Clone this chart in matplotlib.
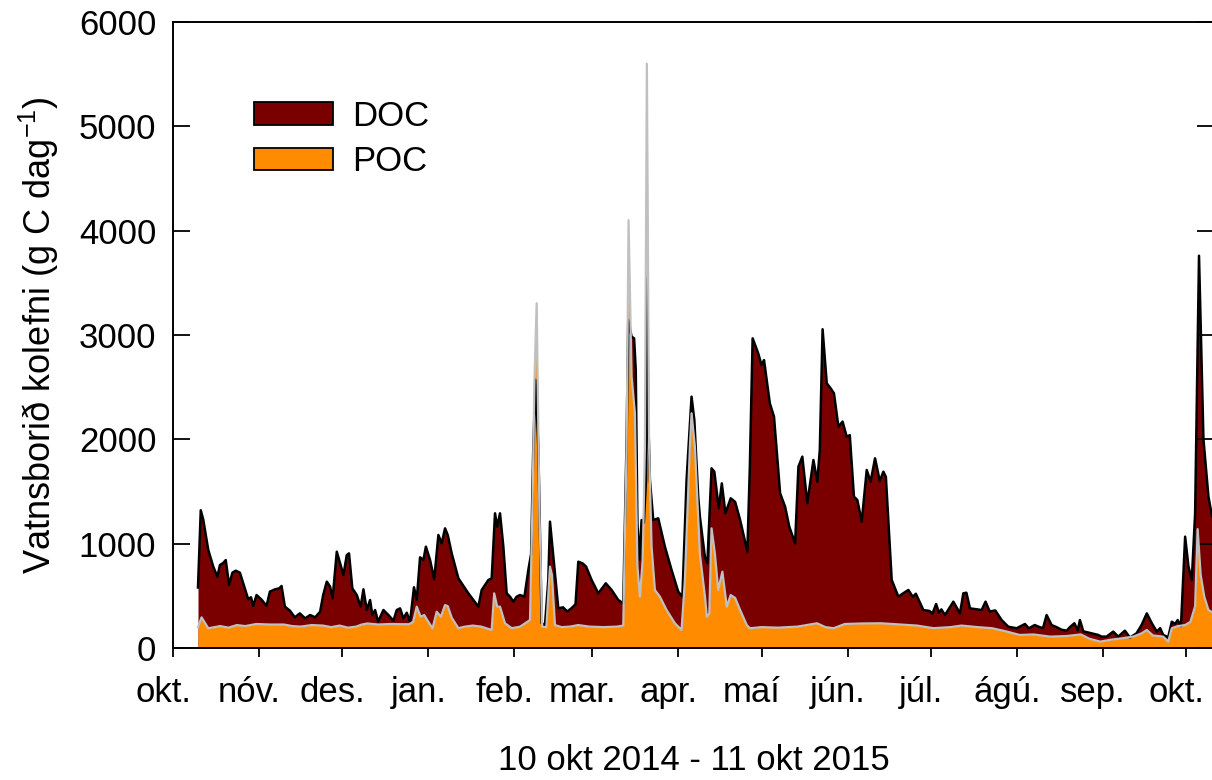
import numpy as np
import matplotlib
matplotlib.use("Agg")
import matplotlib.pyplot as plt
from matplotlib.patches import Patch
from matplotlib.transforms import ScaledTranslation

plt.rcParams['font.family'] = ['Liberation Sans', 'DejaVu Sans']
plt.rcParams['mathtext.fontset'] = 'custom'
plt.rcParams['mathtext.rm'] = 'Liberation Sans'
plt.rcParams['mathtext.it'] = 'Liberation Sans'

# days since 1 Oct 2014
# top line = DOC + POC (g C dag-1)
total_day = [9.0, 10.0, 10.9, 12.7, 14.5, 16.0, 16.9, 18.1, 19.0, 20.2, 21.4, 22.6, 24.1, 25.3,
             27.1, 28.1, 28.9, 30.1, 32.0, 33.7, 34.9, 36.7, 38.3, 39.1, 40.3, 42.1, 43.9, 45.7,
             47.6, 49.4, 51.2, 53.0, 54.1, 55.4, 56.6, 57.5, 59.0, 60.2, 61.4, 62.6, 63.4, 64.6,
             66.2, 67.6, 68.6, 69.8, 71.0, 71.8, 72.8, 73.9, 75.8, 77.6, 79.4, 80.6, 81.8, 83.0,
             84.2, 85.4, 86.8, 87.8, 89.0, 90.2, 91.1, 92.6, 94.1, 95.6, 96.8, 98.0, 99.0, 100.4,
             102.8, 106.4, 110.0, 111.2, 113.6, 114.8, 116.0, 116.8, 117.8, 119.0, 120.2, 121.4,
             122.6, 123.8, 125.0, 126.6, 128.0, 129.0, 129.8, 130.6, 131.6, 132.4, 132.8, 134.0,
             135.2, 135.8, 137.6, 138.8, 140.5, 142.0, 143.5, 145.0, 146.0, 147.6, 148.8, 150.8,
             153.2, 155.9, 158.0, 160.4, 162.2, 163.4, 164.0, 165.2, 166.1, 166.7, 167.3, 168.0,
             168.8, 169.6, 170.4, 170.8, 171.2, 171.8, 173.0, 174.8, 177.2, 179.6, 182.0, 183.5,
             185.0, 186.8, 187.8, 189.2, 189.8, 191.6, 192.5, 194.0, 195.0, 196.6, 197.7, 199.0,
             200.9, 202.5, 204.3, 206.9, 207.8, 208.8, 210.8, 212.0, 212.9, 215.0, 216.5, 218.7,
             220.5, 222.0, 224.1, 225.3, 226.7, 228.5, 230.7, 232.1, 233.0, 234.0, 235.5, 236.9,
             238.1, 239.7, 241.2, 242.7, 243.8, 245.3, 246.5, 248.1, 249.9, 251.3, 252.9, 254.6,
             255.9, 256.8, 258.9, 261.3, 262.8, 264.9, 266.5, 267.6, 270.3, 272.5, 273.6, 274.9,
             275.9, 276.8, 278.1, 281.1, 283.5, 284.7, 285.8, 287.1, 291.3, 292.7, 294.2, 296.2,
             298.5, 300.9, 303.9, 306.9, 308.3, 310.4, 312.2, 313.4, 314.7, 316.5, 318.3, 320.1,
             321.9, 323.1, 324.7, 325.9, 326.7, 327.9, 330.9, 333.3, 334.5, 336.3, 338.7, 340.5,
             342.9, 344.7, 347.1, 348.9, 350.8, 352.6, 354.4, 355.6, 356.7, 358.5, 359.8, 361.0,
             361.9, 363.1, 364.6, 365.8, 367.0, 368.2, 369.6, 371.2, 373.0, 374.3, 375.0]
total_c = [580, 1320, 1230, 940, 780, 683, 795, 815, 843, 604, 722, 741, 722, 620,
           467, 486, 403, 508, 460, 403, 540, 562, 572, 594, 396, 358, 294, 332,
           284, 316, 294, 348, 508, 636, 588, 476, 923, 812, 700, 891, 907, 572,
           508, 396, 562, 364, 460, 316, 364, 252, 364, 316, 262, 364, 380, 284,
           338, 252, 582, 460, 869, 843, 971, 843, 658, 1083, 1003, 1147, 1080, 907,
           668, 524, 396, 556, 652, 668, 1291, 1163, 1291, 971, 524, 492,
           444, 492, 508, 492, 748, 900, 1930, 2570, 1930, 800, 237, 220,
           652, 1211, 716, 380, 390, 350, 380, 420, 827, 810, 780, 652,
           524, 620, 556, 460, 428, 1994, 3144, 2984, 2968, 2665, 1195, 843,
           1227, 1200, 1610, 3550, 2200, 1610, 1227, 1243, 971, 748, 540, 492,
           1610, 2409, 2185, 1450, 1259, 875, 812, 1722, 1690, 1339, 1578, 1291,
           1435, 1400, 1227, 923, 1738, 2968, 2825, 2712, 2760, 2345, 2217, 1483,
           1354, 1163, 1003, 1738, 1834, 1387, 1802, 1594, 1900, 3055, 2537, 2489,
           2441, 2121, 2170, 2025, 2040, 1450, 1420, 1211, 1706, 1594, 1818, 1600,
           1690, 1640, 652, 492, 520, 556, 490, 520, 364, 355, 330, 422,
           340, 370, 316, 444, 332, 524, 530, 380, 364, 444, 350, 360,
           268, 204, 189, 230, 189, 220, 200, 190, 316, 220, 200, 175,
           166, 200, 237, 170, 268, 160, 141, 125, 109, 109, 157, 109,
           166, 100, 141, 220, 332, 237, 157, 190, 125, 103, 252, 230,
           268, 210, 1067, 780, 652, 1291, 3760, 2000, 1450, 1260, 1250]

# POC (lower area)
poc_day = [9.0, 10.3, 12.7, 15, 17, 20, 23, 26, 30, 35, 40, 43, 46, 50, 54, 57, 60, 63, 66, 68,
           70, 74, 78, 82, 85, 86.5, 87.8, 89.2, 90.5, 92.0, 93.5, 95.0, 96.5, 98.0, 99.0, 100.4,
           102.8, 105, 108, 111, 114.8, 115.7, 116.8, 117.8, 119.6, 122, 125, 128.6, 129.6, 130.2,
           131.0, 132.0, 133.0, 134.5, 135.8, 136.5, 137.6, 140, 143, 146, 150, 155, 160, 162.2,
           163.4, 164.1, 165.2, 166.4, 167.3, 168.2, 169.2, 170.0, 170.7, 171.5, 172.4, 173.6,
           175.4, 177.8, 180.8, 183.2, 184.4, 186.2, 186.8, 188.0, 189.8, 191.6, 192.3, 193.2,
           194.0, 195.2, 196.4, 197.9, 199.5, 200.9, 202.5, 204.3, 206.7, 207.8, 212, 218, 225,
           232, 235, 238, 242, 248, 255, 262, 268, 274, 280, 284, 290, 295, 300, 305, 310, 316,
           322, 327, 330, 334, 338, 342, 346, 349, 350.8, 353, 356.7, 358.5, 359.8, 362, 364.6,
           366.5, 368.2, 369.1, 370.2, 371.5, 373, 375]
poc_c = [200, 294, 189, 200, 210, 195, 220, 210, 230, 225, 225, 210, 205, 220, 215, 200, 215, 195, 205, 225,
         235, 225, 230, 228, 228, 250, 396, 300, 316, 250, 189, 348, 300, 412, 400, 290,
         190, 204, 215, 205, 173, 524, 396, 396, 237, 190, 204, 268, 1500, 2569,
         3304, 1291, 204, 200, 780, 700, 220, 200, 205, 220, 205, 200, 205, 215,
         1930, 4100, 2600, 2250, 780, 492, 843, 1930, 5600, 1930, 971, 556,
         492, 364, 237, 173, 652, 1930, 2250, 1930, 900, 500, 300, 330,
         1147, 907, 556, 732, 396, 508, 480, 364, 220, 189, 200, 195, 205,
         237, 200, 190, 230, 235, 237, 225, 215, 190, 200, 215, 200, 190, 160, 125, 130, 109,
         115, 130, 90, 61, 80, 93, 110, 141, 173, 120, 109, 61, 189, 210, 220,
         250, 400, 1140, 700, 492, 364, 332]

months = ['okt.', 'nóv.', 'des.', 'jan.', 'feb.', 'mar.', 'apr.', 'maí', 'jún.', 'júl.',
          'ágú.', 'sep.', 'okt.']

start = np.datetime64('2014-10-01')
month_start = np.arange('2014-10', '2015-11', dtype='datetime64[M]').astype('datetime64[D]')
month_pos = (month_start - start).astype(int)

fig = plt.figure(figsize=(12.12, 7.8), dpi=100)
ax = fig.add_axes([173 / 1212, 132 / 780, 1041 / 1212, 626 / 780])

doc_color = '#7a0000'
poc_color = '#ff8c00'

ax.fill_between(total_day, 0, total_c, color=doc_color, linewidth=0)
ax.plot(total_day, total_c, color='black', lw=1.8)
ax.fill_between(poc_day, 0, poc_c, color=poc_color, linewidth=0)
ax.plot(poc_day, poc_c, color='#c0c0c0', lw=1.6)

ax.set_xlim(0, 375)
ax.set_ylim(0, 6000)
ax.set_yticks(range(0, 6001, 1000))
ax.set_xticks(month_pos)
ax.set_xticklabels(months)

ax.tick_params(axis='y', direction='in', length=12, width=1.3, labelsize=25, pad=12, right=True)
ax.tick_params(axis='x', direction='out', length=6.5, width=1.3, labelsize=25, pad=14)
for lab in ax.get_xticklabels():
    lab.set_transform(lab.get_transform() + ScaledTranslation(-0.1, 0, fig.dpi_scale_trans))

for s in ax.spines.values():
    s.set_linewidth(1.4)

ax.set_xlabel('10 okt 2014 - 11 okt 2015', fontsize=25, labelpad=25)
ax.set_ylabel('Vatnsborið kolefni (g C dag$^{-1}$)', fontsize=26)
ax.yaxis.set_label_coords(-0.108, 0.5)

handles = [Patch(facecolor=doc_color, edgecolor='black', linewidth=1.3, label='DOC'),
           Patch(facecolor=poc_color, edgecolor='black', linewidth=1.3, label='POC')]
ax.legend(handles=handles, loc='upper left', bbox_to_anchor=(0.064, 0.898), frameon=False,
          fontsize=25, handlelength=2.3, handleheight=0.6, handletextpad=0.55,
          labelspacing=0.36, borderaxespad=0)

fig.savefig('out.png', dpi=100)
